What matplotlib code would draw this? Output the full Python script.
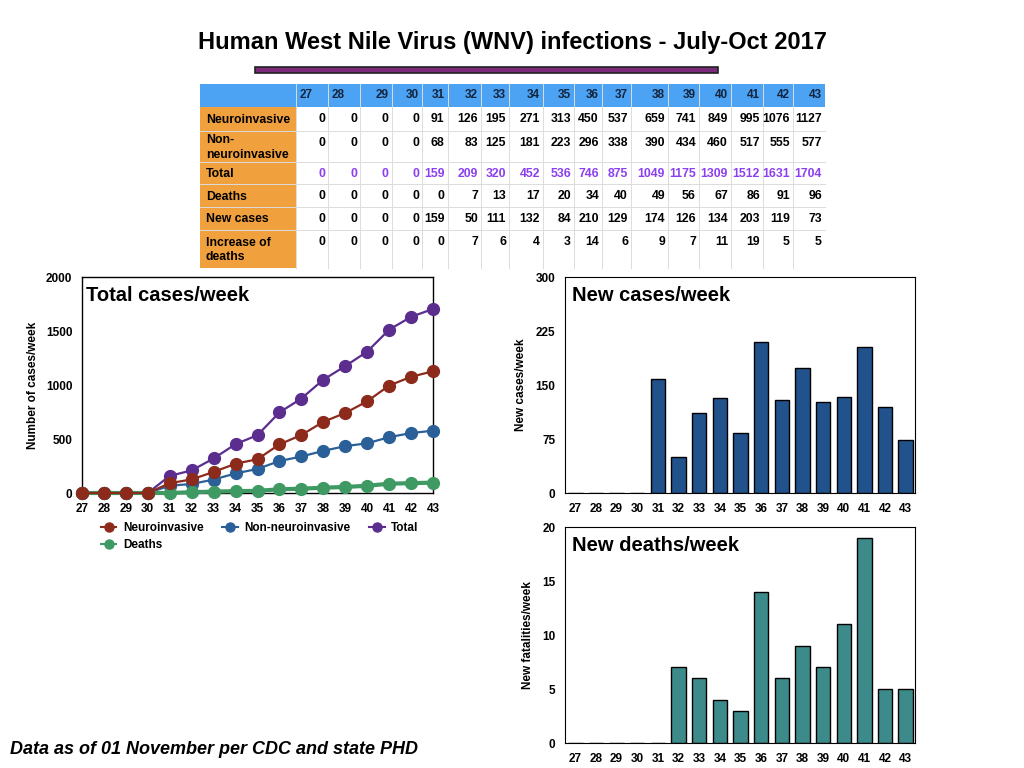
import matplotlib
matplotlib.use("Agg")
import matplotlib.pyplot as plt
from matplotlib.patches import Rectangle
from matplotlib.lines import Line2D

plt.rcParams['font.family'] = ['Liberation Sans', 'DejaVu Sans']
plt.rcParams['font.weight'] = 'bold'
plt.rcParams['axes.labelweight'] = 'bold'

# ---------------- data ----------------
weeks = [27, 28, 29, 30, 31, 32, 33, 34, 35, 36, 37, 38, 39, 40, 41, 42, 43]
neuroinvasive = [0, 0, 0, 0, 91, 126, 195, 271, 313, 450, 537, 659, 741, 849, 995, 1076, 1127]
non_neuroinvasive = [0, 0, 0, 0, 68, 83, 125, 181, 223, 296, 338, 390, 434, 460, 517, 555, 577]
total = [0, 0, 0, 0, 159, 209, 320, 452, 536, 746, 875, 1049, 1175, 1309, 1512, 1631, 1704]
deaths = [0, 0, 0, 0, 0, 7, 13, 17, 20, 34, 40, 49, 56, 67, 86, 91, 96]
new_cases = [0, 0, 0, 0, 159, 50, 111, 132, 84, 210, 129, 174, 126, 134, 203, 119, 73]
new_deaths = [0, 0, 0, 0, 0, 7, 6, 4, 3, 14, 6, 9, 7, 11, 19, 5, 5]

row_labels = ["Neuroinvasive", "Non-\nneuroinvasive", "Total", "Deaths", "New cases", "Increase of\ndeaths"]
row_values = [neuroinvasive, non_neuroinvasive, total, deaths, new_cases, new_deaths]

title = "Human West Nile Virus (WNV) infections - July-Oct 2017"
footer = "Data as of 01 November per CDC and state PHD"

# ---------------- colours ----------------
C_NEURO = "#8c2a1c"
C_NONNEURO = "#2b5f98"
C_TOTAL = "#5a2d8f"
C_DEATHS = "#3e9a62"
C_BAR1 = "#22528c"
C_BAR2 = "#3d8a8a"
C_HEAD = "#4ca3f4"
C_LABEL = "#f0a03c"
C_TOTALTXT = "#8b3ff0"

fig = plt.figure(figsize=(10.24, 7.68), dpi=100)

# overlay in pixel coordinates for title / table / footer
ov = fig.add_axes([0, 0, 1, 1])
ov.set_xlim(0, 1024)
ov.set_ylim(768, 0)
ov.axis('off')

ov.text(512, 42, title, ha='center', va='center', fontsize=17, fontweight='bold')
ov.add_patch(Rectangle((255, 67), 463, 6, facecolor="#7a2a78", edgecolor="#222222", lw=1.2))
ov.text(10, 749, footer, ha='left', va='center', fontsize=13, fontweight='bold', style='italic')

# table
col_edges = [200, 295.6, 328, 360, 391.5, 422, 447.6, 481, 509, 543, 574, 602, 631, 668, 699, 731, 763, 793, 825]
row_edges = [84, 107, 131, 162, 184, 207, 230, 268]
x0, x1 = col_edges[0], col_edges[-1]
ov.add_patch(Rectangle((x0, row_edges[0]), x1 - x0, row_edges[1] - row_edges[0], facecolor=C_HEAD, edgecolor='none'))
ov.add_patch(Rectangle((x0, row_edges[1]), col_edges[1] - x0, row_edges[-1] - row_edges[1], facecolor=C_LABEL, edgecolor='none'))
for xe in col_edges[1:-1]:
    ov.plot([xe, xe], [row_edges[0], row_edges[-1]], color="#dcdcdc", lw=0.7)
for ye in row_edges[2:-1]:
    ov.plot([x0, x1], [ye, ye], color="#dcdcdc", lw=0.7)

for j, w in enumerate(weeks):
    l, r = col_edges[j + 1], col_edges[j + 2]
    yc = (row_edges[0] + row_edges[1]) / 2
    if j < 2:
        ov.text(l + 4, yc, str(w), ha='left', va='center', fontsize=8.5, fontweight='bold', color="#14243c")
    else:
        ov.text(r - 3, yc, str(w), ha='right', va='center', fontsize=8.5, fontweight='bold', color="#14243c")

for i, (lab, vals) in enumerate(zip(row_labels, row_values)):
    top, bot = row_edges[i + 1], row_edges[i + 2]
    ov.text(x0 + 6, (top + bot) / 2 + 1, lab, ha='left', va='center', fontsize=8.8, fontweight='bold',
            linespacing=1.3, color="black")
    yv = top + 12
    color = C_TOTALTXT if lab == "Total" else "black"
    for j, v in enumerate(vals):
        r = col_edges[j + 2]
        ov.text(r - 3, yv, str(v), ha='right', va='center', fontsize=8.8, fontweight='bold', color=color)

# ---------------- left line chart ----------------
def px_axes(l, t, r, b):
    return fig.add_axes([l / 1024, 1 - b / 768, (r - l) / 1024, (b - t) / 768])

ax = px_axes(82, 277, 433, 493)
ms = 8.5
ax.plot(weeks, total, color=C_TOTAL, marker='o', ms=ms, lw=1.6, zorder=3, clip_on=False)
ax.plot(weeks, non_neuroinvasive, color=C_NONNEURO, marker='o', ms=ms, lw=1.6, zorder=4, clip_on=False)
ax.plot(weeks, deaths, color=C_DEATHS, marker='o', ms=ms, lw=3, zorder=5, clip_on=False)
ax.plot(weeks, neuroinvasive, color=C_NEURO, marker='o', ms=ms, lw=1.6, zorder=6, clip_on=False)
ax.set_xlim(27, 43)
ax.set_ylim(0, 2000)
ax.set_xticks(weeks)
ax.set_yticks([0, 500, 1000, 1500, 2000])
ax.tick_params(length=0, labelsize=8.5, pad=7)
for s in ax.spines.values():
    s.set_linewidth(1.0)
ax.set_ylabel("Number of cases/week", fontsize=8.5, fontweight='bold', labelpad=5)
ax.text(0.01, 0.96, "Total cases/week", transform=ax.transAxes, ha='left', va='top',
        fontsize=14.5, fontweight='bold')
for lbl in ax.get_xticklabels() + ax.get_yticklabels():
    lbl.set_fontweight('bold')

hmap = {
    "Neuroinvasive": C_NEURO,
    "Non-neuroinvasive": C_NONNEURO,
    "Total": C_TOTAL,
    "Deaths": C_DEATHS,
}
order = ["Neuroinvasive", "Deaths", "Non-neuroinvasive", "Total"]  # column-major fill
handles = [Line2D([], [], color=hmap[k], marker='o', ms=6.5, lw=1.5) for k in order]
leg = fig.legend(handles, order, ncol=3, loc='upper left', bbox_to_anchor=(101 / 1024, 1 - 522 / 768),
                 frameon=False, fontsize=8.5, handlelength=1.3, columnspacing=1.6, handletextpad=0.55,
                 labelspacing=0.4, borderpad=0, borderaxespad=0)

# ---------------- right bar charts ----------------
def bar_chart(axb, vals, color, ylim, yticks, ylabel, label, pad):
    axb.bar(range(len(weeks)), vals, width=0.7, color=color, edgecolor='black', lw=1.0)
    axb.set_xlim(-0.5, 16.45)
    axb.set_ylim(*ylim)
    axb.set_xticks(range(len(weeks)))
    axb.set_xticklabels([str(w) for w in weeks])
    axb.set_yticks(yticks)
    axb.tick_params(length=0, labelsize=8.5, pad=7)
    axb.set_ylabel(ylabel, fontsize=8.5, fontweight='bold', labelpad=pad)
    axb.text(0.02, 0.96, label, transform=axb.transAxes, ha='left', va='top', fontsize=14.5, fontweight='bold')
    for lbl in axb.get_xticklabels() + axb.get_yticklabels():
        lbl.set_fontweight('bold')

ax2 = px_axes(565, 277, 915, 493)
bar_chart(ax2, new_cases, C_BAR1, (0, 300), [0, 75, 150, 225, 300], "New cases/week", "New cases/week", 6)

ax3 = px_axes(565, 527, 915, 743)
bar_chart(ax3, new_deaths, C_BAR2, (0, 20), [0, 5, 10, 15, 20], "New fatalities/week", "New deaths/week", 6)

fig.savefig("out.png", dpi=100)
